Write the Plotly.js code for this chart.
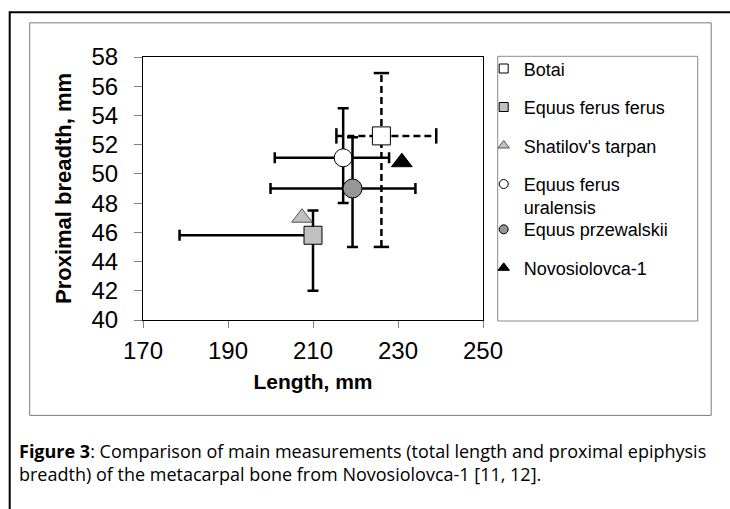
<!DOCTYPE html>
<html><head><meta charset="utf-8">
<script src="https://cdn.plot.ly/plotly-3.0.1.min.js"></script>
<style>html,body{margin:0;padding:0;background:#fff;} #chart{width:730px;height:509px;}</style>
</head><body><div id="chart"></div>
<script>
// ---- data ----
const seriesNames = ["Botai", "Equus ferus ferus", "Shatilov's tarpan", "Equus ferus<br>uralensis", "Equus przewalskii", "Novosiolovca-1"];
const lengthMm       = [226.1, 210.0, 207.4, 217.1, 219.3, 230.9];
const breadthMm      = [52.6, 45.8, 47.0, 51.1, 49.0, 50.8];
const lengthErrPlus  = [12.9, 0, 0, 10.8, 14.8, 0];
const lengthErrMinus = [10.6, 31.4, 0, 16.1, 19.3, 0];
const breadthErrPlus = [4.3, 1.7, 0, 3.4, 3.5, 0];
const breadthErrMinus= [7.6, 3.8, 0, 3.1, 4.0, 0];
const xTickVals = [170, 190, 210, 230, 250];
const yTickVals = [40, 42, 44, 46, 48, 50, 52, 54, 56, 58];
const captionText = "<b>Figure 3</b>: Comparison of main measurements (total length and proximal epiphysis<br>breadth) of the metacarpal bone from Novosiolovca-1 [11, 12].";

// ---- styles ----
const symbols = ['square', 'square', 'triangle-up', 'circle', 'circle', 'triangle-up'];
const fills   = ['#ffffff', '#c0c0c0', '#c0c0c0', '#ffffff', '#969696', '#000000'];
const outlines= ['#000000', '#000000', '#555555', '#000000', '#000000', '#000000'];
const mSizes  = [18, 18, 18, 18, 19, 18];
const legSizes= [9, 9, 10, 9, 9, 10];
const legendOf= ['legend', 'legend', 'legend', 'legend', 'legend2', 'legend2'];
const dashedSeries = [true, false, false, false, false, false];

const W = 730, H = 509, PL = 143.3, PR = 483.3, PT = 56.7, PB = 320;
const fx = p => (p - PL) / (PR - PL);
const fy = p => (PB - p) / (PB - PT);
const FONT = 'Liberation Sans, Arial, sans-serif';
const LEGFONT = {family: FONT, size: 18, color: '#000'};

const traces = [];
// dashed error bars (drawn as lines from the data)
seriesNames.forEach((n, i) => {
  if (!dashedSeries[i]) return;
  traces.push({
    x: [lengthMm[i] - lengthErrMinus[i], lengthMm[i] + lengthErrPlus[i]],
    y: [breadthMm[i], breadthMm[i]],
    mode: 'lines+markers', showlegend: false, hoverinfo: 'skip',
    line: {color: '#000', width: 2.5, dash: '7px,4px'},
    marker: {symbol: 'line-ns-open', size: 11, line: {color: '#000', width: 2.5}}
  });
  traces.push({
    x: [lengthMm[i], lengthMm[i]],
    y: [breadthMm[i] - breadthErrMinus[i], breadthMm[i] + breadthErrPlus[i]],
    mode: 'lines+markers', showlegend: false, hoverinfo: 'skip',
    line: {color: '#000', width: 2.5, dash: '7px,4px'},
    marker: {symbol: 'line-ew-open', size: 11, line: {color: '#000', width: 2.5}}
  });
});
// points with solid error bars
seriesNames.forEach((n, i) => {
  const hasErr = !dashedSeries[i] && (lengthErrPlus[i] + lengthErrMinus[i] > 0);
  const hasErrY = !dashedSeries[i] && (breadthErrPlus[i] + breadthErrMinus[i] > 0);
  traces.push({
    x: [lengthMm[i]], y: [breadthMm[i]], mode: 'markers', name: n, showlegend: false,
    marker: {symbol: symbols[i], size: mSizes[i], color: fills[i], line: {color: outlines[i], width: 1}},
    error_x: {type: 'data', symmetric: false, array: [lengthErrPlus[i]], arrayminus: [lengthErrMinus[i]],
              visible: hasErr, color: '#000', thickness: 2.5, width: 5.5},
    error_y: {type: 'data', symmetric: false, array: [breadthErrPlus[i]], arrayminus: [breadthErrMinus[i]],
              visible: hasErrY, color: '#000', thickness: 2.5, width: 5.5}
  });
});
// legend entries
seriesNames.forEach((n, i) => {
  traces.push({
    x: [null], y: [null], mode: 'markers', name: n, legend: legendOf[i], legendgroup: 'g' + i,
    hoverinfo: 'skip',
    marker: {symbol: symbols[i], size: legSizes[i], color: fills[i], line: {color: outlines[i], width: 1}}
  });
});

const legendBase = {xanchor: 'left', yanchor: 'top', bgcolor: 'rgba(0,0,0,0)', borderwidth: 0,
                    font: LEGFONT, tracegroupgap: 12.1, traceorder: 'grouped', valign: 'top'};

const layout = {
  width: W, height: H,
  margin: {l: PL, r: W - PR, t: PT, b: H - PB, pad: 0},
  paper_bgcolor: '#fff', plot_bgcolor: '#fff',
  font: {family: FONT, color: '#000'},
  showlegend: true,
  legend: Object.assign({}, legendBase, {x: fx(484), y: fy(50)}),
  legend2: Object.assign({}, legendBase, {x: fx(484), y: fy(211)}),
  xaxis: {range: [170, 250], tickvals: xTickVals, ticks: 'outside', ticklen: 7, tickcolor: '#808080',
          showline: true, linecolor: '#000', linewidth: 1, mirror: true, showgrid: false, zeroline: false,
          tickfont: {size: 24, family: FONT}, ticklabelstandoff: 2,
          title: {text: 'Length, mm', font: {size: 21, family: FONT, weight: 'bold'}, standoff: 11}},
  yaxis: {range: [40, 58], tickvals: yTickVals, ticks: 'outside', ticklen: 8, tickcolor: '#808080',
          showline: true, linecolor: '#000', linewidth: 1, mirror: true, showgrid: false, zeroline: false,
          tickfont: {size: 24, family: FONT}, ticklabelstandoff: 11,
          title: {text: 'Proximal breadth, mm', font: {size: 22, family: FONT, weight: 'bold'}, standoff: 13}},
  shapes: [
    {type: 'rect', xref: 'paper', yref: 'paper', x0: fx(10), x1: fx(760), y0: fy(12), y1: fy(540),
     line: {color: '#000', width: 2}, fillcolor: 'rgba(0,0,0,0)', layer: 'below'},
    {type: 'rect', xref: 'paper', yref: 'paper', x0: fx(30), x1: fx(711.5), y0: fy(22.5), y1: fy(415.5),
     line: {color: '#7a7a7a', width: 1}, fillcolor: 'rgba(0,0,0,0)', layer: 'below'},
    {type: 'rect', xref: 'paper', yref: 'paper', x0: fx(498), x1: fx(698), y0: fy(56), y1: fy(321),
     line: {color: '#8c8c8c', width: 1}, fillcolor: 'rgba(0,0,0,0)', layer: 'below'}
  ],
  annotations: [
    {text: captionText, xref: 'paper', yref: 'paper', x: fx(17), y: fy(437), xanchor: 'left', yanchor: 'top',
     align: 'left', showarrow: false, font: {family: 'Open Sans, Noto Sans, sans-serif', size: 18, color: '#000'}}
  ]
};

Plotly.newPlot('chart', traces, layout, {displayModeBar: false, staticPlot: true});
</script>
</body></html>
